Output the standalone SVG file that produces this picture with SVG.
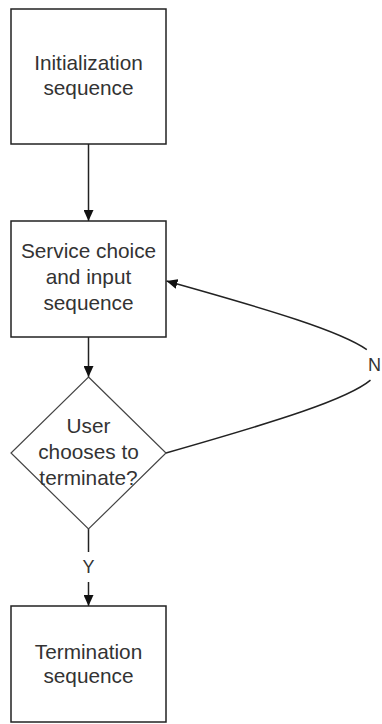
<svg xmlns="http://www.w3.org/2000/svg" width="382" height="724" viewBox="0 0 382 724">
  <style>
    .box { fill: #ffffff; stroke: #222222; stroke-width: 1.5; }
    .decision { fill: #ffffff; stroke: #444444; stroke-width: 1.2; }
    .label { font-family: "Liberation Sans", Arial, sans-serif; font-size: 20.8px; fill: #333333; text-anchor: middle; }
    .edge { fill: none; stroke: #222222; stroke-width: 1.5; }
    .edge-label { font-family: "Liberation Sans", Arial, sans-serif; font-size: 18px; fill: #333333; }
  </style>
  <defs>
    <marker id="arrow" markerUnits="userSpaceOnUse" markerWidth="11" markerHeight="10" refX="11" refY="5" orient="auto">
      <path d="M0,0 L11,5 L0,10 z" fill="#111111"/>
    </marker>
  </defs>
  <rect width="382" height="724" fill="#ffffff"/>

  <!-- connectors -->
  <g id="connectors">
    <line class="edge" x1="88.5" y1="144" x2="88.5" y2="221" marker-end="url(#arrow)"/>
    <line class="edge" x1="88.5" y1="337" x2="88.5" y2="377" marker-end="url(#arrow)"/>
    <line class="edge" x1="88.5" y1="529" x2="88.5" y2="552"/>
    <text class="edge-label" x="88.5" y="573" text-anchor="middle">Y</text>
    <line class="edge" x1="88.5" y1="582" x2="88.5" y2="606" marker-end="url(#arrow)"/>
    <!-- "No" loop back to the service choice box -->
    <path class="edge" d="M166,453 C279.6,420.6 347.8,399.2 370.5,380.2"/>
    <path class="edge" d="M366.8,349.6 C340.8,331.4 273.9,311 166.5,281" marker-end="url(#arrow)"/>
    <text class="edge-label" x="368" y="371">N</text>
  </g>

  <!-- nodes -->
  <g id="init">
    <rect class="box" x="11" y="9" width="155" height="135"/>
    <text class="label" x="88.5" y="70">Initialization</text>
    <text class="label" x="88.5" y="95">sequence</text>
  </g>

  <g id="service">
    <rect class="box" x="11" y="221" width="155" height="116"/>
    <text class="label" x="88.5" y="258">Service choice</text>
    <text class="label" x="88.5" y="284">and input</text>
    <text class="label" x="88.5" y="310">sequence</text>
  </g>

  <g id="decision">
    <polygon class="decision" points="88.5,377 166,453 88.5,529 11,453"/>
    <text class="label" x="88.5" y="433">User</text>
    <text class="label" x="88.5" y="459">chooses to</text>
    <text class="label" x="88.5" y="485">terminate?</text>
  </g>

  <g id="termination">
    <rect class="box" x="11" y="606" width="155" height="116"/>
    <text class="label" x="88.5" y="659">Termination</text>
    <text class="label" x="88.5" y="683">sequence</text>
  </g>
</svg>
